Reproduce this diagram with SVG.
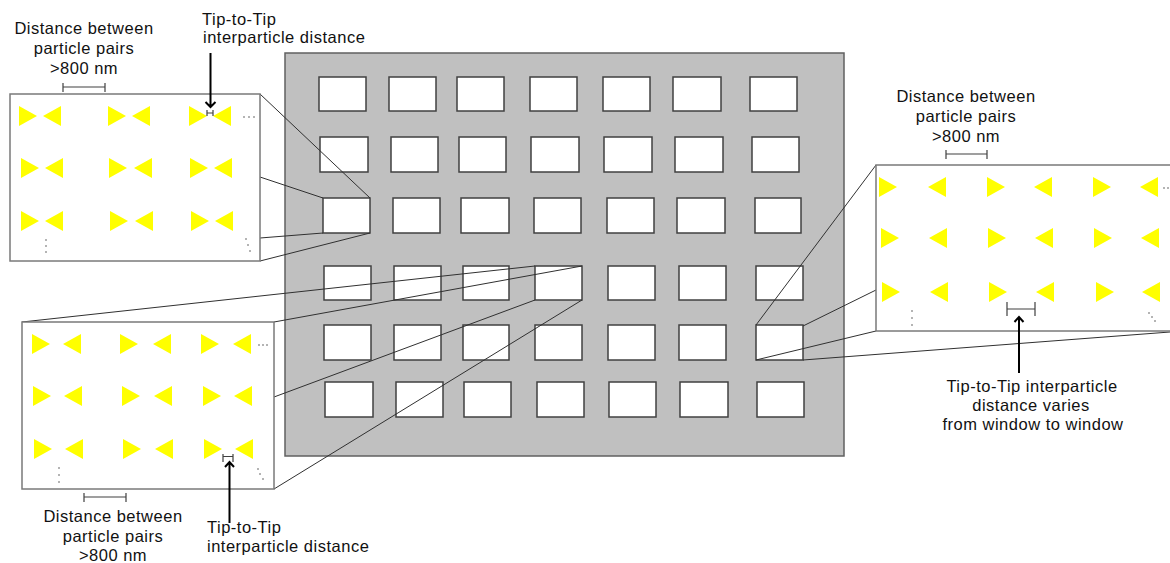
<svg xmlns="http://www.w3.org/2000/svg" width="1170" height="563" viewBox="0 0 1170 563">
<style>
.bg{fill:#c0c0c0;stroke:#606060;stroke-width:1.5}
.win{fill:#ffffff;stroke:#404040;stroke-width:1.5}
.panel{fill:#ffffff;stroke:#7a7a7a;stroke-width:1.5}
.conn{stroke:#303030;stroke-width:1;fill:none}
.tri{fill:#ffff00}
.dot{fill:#555}
.bar{stroke:#404040;stroke-width:1.2;fill:none}
.arrow{stroke:#000;stroke-width:2;fill:none}
.lbl{font-family:"Liberation Sans",Arial,sans-serif;font-size:16.5px;letter-spacing:0.5px;fill:#111}
</style>
<defs>
<path id="tr" class="tri" d="M0,-10 L18,0 L0,10Z"/>
<path id="tl" class="tri" d="M18,-10 L0,0 L18,10Z"/>
</defs>

<g id="substrate">
<rect class="bg" x="285" y="53" width="559" height="403"/>
<g id="windows">
<rect class="win" x="319" y="77" width="47" height="34"/>
<rect class="win" x="389" y="77" width="47" height="34"/>
<rect class="win" x="457" y="77" width="47" height="34"/>
<rect class="win" x="530" y="77" width="47" height="34"/>
<rect class="win" x="603" y="77" width="47" height="34"/>
<rect class="win" x="673" y="77" width="48" height="34"/>
<rect class="win" x="750" y="77" width="47" height="34"/>

<rect class="win" x="320" y="137" width="48" height="35"/>
<rect class="win" x="391" y="137" width="47" height="35"/>
<rect class="win" x="459" y="137" width="47" height="35"/>
<rect class="win" x="531" y="137" width="48" height="35"/>
<rect class="win" x="604" y="137" width="48" height="35"/>
<rect class="win" x="675" y="137" width="48" height="35"/>
<rect class="win" x="752" y="137" width="47" height="35"/>

<rect class="win" x="323" y="198" width="47" height="35"/>
<rect class="win" x="393" y="198" width="47" height="35"/>
<rect class="win" x="461" y="198" width="48" height="35"/>
<rect class="win" x="534" y="198" width="47" height="35"/>
<rect class="win" x="607" y="198" width="47" height="35"/>
<rect class="win" x="677" y="198" width="48" height="35"/>
<rect class="win" x="755" y="198" width="46" height="35"/>

<rect class="win" x="324" y="266" width="47" height="34"/>
<rect class="win" x="394" y="266" width="47" height="34"/>
<rect class="win" x="463" y="266" width="46" height="34"/>
<rect class="win" x="535" y="266" width="47" height="34"/>
<rect class="win" x="608" y="266" width="47" height="34"/>
<rect class="win" x="679" y="266" width="47" height="34"/>
<rect class="win" x="756" y="266" width="47" height="34"/>

<rect class="win" x="324" y="325" width="47" height="35"/>
<rect class="win" x="394" y="325" width="47" height="35"/>
<rect class="win" x="463" y="325" width="46" height="35"/>
<rect class="win" x="535" y="325" width="47" height="35"/>
<rect class="win" x="608" y="325" width="47" height="35"/>
<rect class="win" x="679" y="325" width="47" height="35"/>
<rect class="win" x="756" y="325" width="47" height="35"/>

<rect class="win" x="325" y="382" width="48" height="35"/>
<rect class="win" x="396" y="382" width="47" height="35"/>
<rect class="win" x="464" y="382" width="47" height="35"/>
<rect class="win" x="537" y="382" width="47" height="35"/>
<rect class="win" x="609" y="382" width="47" height="35"/>
<rect class="win" x="680" y="382" width="48" height="35"/>
<rect class="win" x="757" y="382" width="47" height="35"/>
</g>
</g>

<g id="connectors">
<line class="conn" x1="260" y1="94" x2="370" y2="198"/>
<line class="conn" x1="260" y1="177" x2="323" y2="198"/>
<line class="conn" x1="260" y1="238" x2="323" y2="233"/>
<line class="conn" x1="260" y1="261" x2="370" y2="233"/>
<line class="conn" x1="22" y1="322" x2="535" y2="266"/>
<line class="conn" x1="274" y1="322" x2="582" y2="266"/>
<line class="conn" x1="274" y1="397" x2="535" y2="300"/>
<line class="conn" x1="274" y1="489" x2="582" y2="300"/>
<line class="conn" x1="876" y1="165" x2="756" y2="325"/>
<line class="conn" x1="876" y1="290" x2="803" y2="326"/>
<line class="conn" x1="876" y1="331" x2="756" y2="360"/>
<line class="conn" x1="803" y1="360" x2="1170" y2="332"/>
</g>

<g id="panel-top-left">
<rect class="panel" x="10" y="94" width="250" height="167"/>
<use href="#tr" x="19" y="116"/><use href="#tl" x="43" y="116"/>
<use href="#tr" x="108" y="116"/><use href="#tl" x="132" y="116"/>
<use href="#tr" x="189" y="116"/><use href="#tl" x="213" y="116"/>
<use href="#tr" x="21" y="168"/><use href="#tl" x="45" y="168"/>
<use href="#tr" x="109" y="168"/><use href="#tl" x="134" y="168"/>
<use href="#tr" x="190" y="168"/><use href="#tl" x="214" y="168"/>
<use href="#tr" x="21" y="221"/><use href="#tl" x="45" y="221"/>
<use href="#tr" x="110" y="221"/><use href="#tl" x="135" y="221"/>
<use href="#tr" x="191" y="221"/><use href="#tl" x="215" y="221"/>
<circle class="dot" cx="244" cy="117" r="0.8"/><circle class="dot" cx="249" cy="117" r="0.8"/><circle class="dot" cx="254" cy="117" r="0.8"/>
<circle class="dot" cx="46" cy="240" r="0.8"/><circle class="dot" cx="46" cy="246" r="0.8"/><circle class="dot" cx="46" cy="252" r="0.8"/>
<circle class="dot" cx="246" cy="239" r="0.8"/><circle class="dot" cx="248" cy="245" r="0.8"/><circle class="dot" cx="250" cy="251" r="0.8"/>
<path class="bar" d="M207,110 V116 M213,110 V116 M207,113 H213"/>
</g>

<g id="panel-bottom-left">
<rect class="panel" x="22" y="322" width="252" height="167"/>
<use href="#tr" x="32" y="344"/><use href="#tl" x="63" y="344"/>
<use href="#tr" x="120" y="344"/><use href="#tl" x="153" y="344"/>
<use href="#tr" x="201" y="344"/><use href="#tl" x="233" y="344"/>
<use href="#tr" x="33" y="396"/><use href="#tl" x="64" y="396"/>
<use href="#tr" x="122" y="396"/><use href="#tl" x="154" y="396"/>
<use href="#tr" x="203" y="396"/><use href="#tl" x="234" y="396"/>
<use href="#tr" x="34" y="449"/><use href="#tl" x="65" y="449"/>
<use href="#tr" x="123" y="449"/><use href="#tl" x="155" y="449"/>
<use href="#tr" x="204" y="449"/><use href="#tl" x="235" y="449"/>
<circle class="dot" cx="259" cy="345" r="0.8"/><circle class="dot" cx="263" cy="345" r="0.8"/><circle class="dot" cx="267" cy="345" r="0.8"/>
<circle class="dot" cx="59" cy="468" r="0.8"/><circle class="dot" cx="59" cy="475" r="0.8"/><circle class="dot" cx="59" cy="482" r="0.8"/>
<circle class="dot" cx="258" cy="469" r="0.8"/><circle class="dot" cx="260" cy="474" r="0.8"/><circle class="dot" cx="263" cy="479" r="0.8"/>
<path class="bar" d="M223,454 V462 M233,454 V462 M223,456.5 H233"/>
</g>

<g id="panel-right">
<rect class="panel" x="876" y="165" width="310" height="166"/>
<use href="#tr" x="879" y="187"/><use href="#tl" x="928" y="187"/>
<use href="#tr" x="987" y="187"/><use href="#tl" x="1034" y="187"/>
<use href="#tr" x="1093" y="187"/><use href="#tl" x="1140" y="187"/>
<use href="#tr" x="881" y="238"/><use href="#tl" x="929" y="238"/>
<use href="#tr" x="988" y="238"/><use href="#tl" x="1035" y="238"/>
<use href="#tr" x="1094" y="238"/><use href="#tl" x="1141" y="238"/>
<use href="#tr" x="882" y="292"/><use href="#tl" x="930" y="292"/>
<use href="#tr" x="989" y="292"/><use href="#tl" x="1036" y="292"/>
<use href="#tr" x="1096" y="292"/><use href="#tl" x="1142" y="292"/>
<circle class="dot" cx="1164" cy="188" r="0.8"/><circle class="dot" cx="1168" cy="188" r="0.8"/>
<circle class="dot" cx="912" cy="311" r="0.8"/><circle class="dot" cx="912" cy="318" r="0.8"/><circle class="dot" cx="912" cy="325" r="0.8"/>
<circle class="dot" cx="1149" cy="313" r="0.8"/><circle class="dot" cx="1152" cy="317" r="0.8"/><circle class="dot" cx="1155" cy="321" r="0.8"/>
<path class="bar" d="M1007,302 V316 M1035,302 V316 M1007,309 H1035"/>
</g>

<g id="label-top-left-distance">
<path class="bar" d="M63,83 V92 M105,83 V92 M63,87 H105"/>
<text class="lbl" text-anchor="middle" x="84" y="34">Distance between</text>
<text class="lbl" text-anchor="middle" x="84" y="54">particle pairs</text>
<text class="lbl" text-anchor="middle" x="84" y="74">&gt;800 nm</text>
</g>

<g id="label-top-tip">
<text class="lbl" x="202" y="25">Tip-to-Tip</text>
<text class="lbl" x="203" y="43">interparticle distance</text>
<path class="arrow" d="M210.5,53 V106 M205.5,102 L210.5,107 L215.5,102"/>
</g>

<g id="label-bottom-left-distance">
<path class="bar" d="M84,493 V502 M126,493 V502 M84,497 H126"/>
<text class="lbl" text-anchor="middle" x="113" y="522">Distance between</text>
<text class="lbl" text-anchor="middle" x="113" y="542">particle pairs</text>
<text class="lbl" text-anchor="middle" x="113" y="561">&gt;800 nm</text>
</g>

<g id="label-bottom-tip">
<text class="lbl" x="207" y="533">Tip-to-Tip</text>
<text class="lbl" x="207" y="552">interparticle distance</text>
<path class="arrow" d="M229.5,523 V463 M225,467 L229.5,462 L234,467"/>
</g>

<g id="label-right-distance">
<path class="bar" d="M946,150 V159 M987,150 V159 M946,154 H987"/>
<text class="lbl" text-anchor="middle" x="966" y="102">Distance between</text>
<text class="lbl" text-anchor="middle" x="966" y="122">particle pairs</text>
<text class="lbl" text-anchor="middle" x="966" y="142">&gt;800 nm</text>
</g>

<g id="label-right-tip">
<text class="lbl" text-anchor="middle" x="1032" y="392">Tip-to-Tip interparticle</text>
<text class="lbl" text-anchor="middle" x="1031" y="411">distance varies</text>
<text class="lbl" text-anchor="middle" x="1033" y="430">from window to window</text>
<path class="arrow" d="M1019,373 V318 M1014.5,322 L1019,317 L1023.5,322"/>
</g>
</svg>
